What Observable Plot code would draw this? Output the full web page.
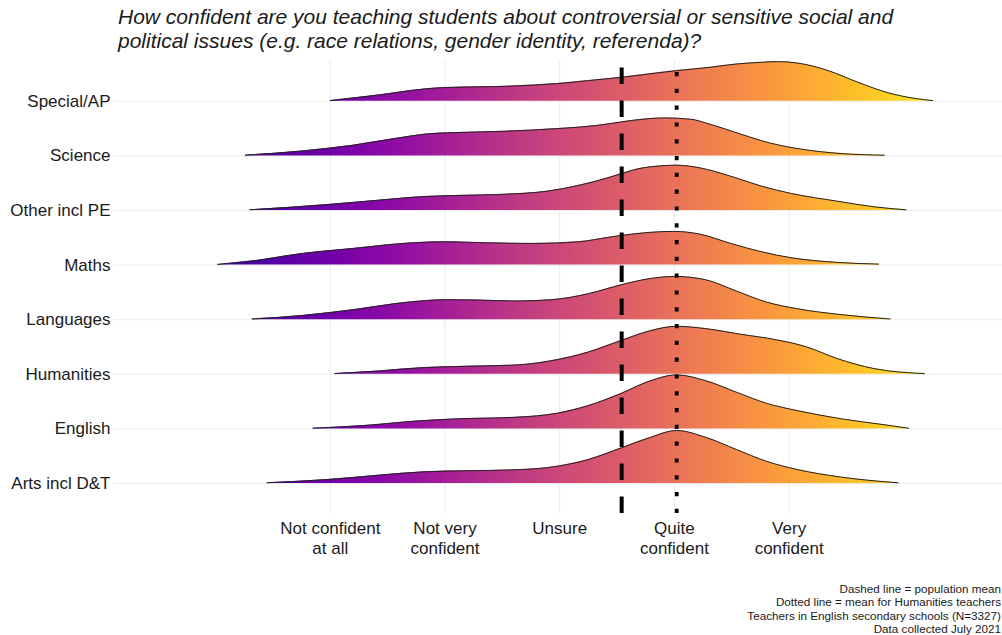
<!DOCTYPE html>
<html><head><meta charset="utf-8">
<script src="https://cdn.jsdelivr.net/npm/d3@7"></script>
<script src="https://cdn.jsdelivr.net/npm/@observablehq/plot@0.6"></script>
<style>
body{margin:0;background:#fff;font-family:"Liberation Sans",Arial,sans-serif;}
#wrap{position:relative;width:1002px;height:635px;overflow:hidden;}
#chart{position:absolute;left:0;top:0;}
#title{position:absolute;left:118px;top:5px;font-style:italic;font-size:21px;line-height:24px;color:#1a1a1a;white-space:nowrap;}
#caption{position:absolute;right:1px;top:582px;font-size:11.7px;line-height:13.3px;text-align:right;color:#1a1a1a;white-space:nowrap;}
</style></head>
<body><div id="wrap">
<div id="chart"></div>
<div id="title">How confident are you teaching students about controversial or sensitive social and<br>political issues (e.g. race relations, gender identity, referenda)?</div>
<div id="caption">Dashed line = population mean<br>Dotted line = mean for Humanities teachers<br>Teachers in English secondary schools (N=3327)<br>Data collected July 2021</div>
</div>
<script>
// categories, bottom row first
const subjects = ["Arts incl D&T","English","Humanities","Languages","Maths","Other incl PE","Science","Special/AP"];
const tickValues = [1,2,3,4,5];
const tickLabels = ["Not confident\nat all","Not very\nconfident","Unsure","Quite\nconfident","Very\nconfident"];
const populationMean = 3.54;
const humanitiesMean = 4.02;
// limits of the colour (fill) scale along x
const fillLimits = [-0.55, 6.54];

// density curves (x = confidence score, d = ridge height)
const specialX = [1.00,1.42,1.82,2.00,2.53,2.98,3.25,3.54,4.02,4.31,4.54,4.76,4.89,5.07,5.34,5.60,5.87,6.09,6.25];
const specialD = [0.7,6.3,12.3,13.7,15,17.7,20.7,24,30.7,34,37.3,39,39.7,38.3,30.7,19,8.3,3,0.7];
const scienceX = [0.26,0.76,1.20,1.56,1.82,2.09,2.53,2.98,3.34,3.54,3.78,3.91,4.14,4.31,4.58,4.84,5.11,5.46,5.83];
const scienceD = [0.7,5,10.7,17.3,21.7,23.3,24.7,27.3,30.7,34,37.3,38,36.7,31.7,21.7,12.7,6.7,2.3,0.7];
const otherX = [0.30,0.98,1.42,1.82,2.09,2.53,2.89,3.16,3.42,3.54,3.73,4.02,4.22,4.49,4.76,5.02,5.42,5.74,6.02];
const otherD = [0.7,6,10.3,14,15,16.3,19.3,25,32.7,37,42.7,45.3,42.7,34.3,24.3,17,9.3,3.7,0.7];
const mathsX = [0.02,0.31,0.76,1.20,1.64,2.00,2.36,2.76,3.16,3.42,3.54,3.78,4.00,4.22,4.49,4.76,5.02,5.42,5.78];
const mathsD = [0.7,4,11.7,16.7,21.7,23.3,22.3,21.7,23.3,27.7,29.7,32.7,33.7,31,21.7,13.3,7.3,2.7,1];
const languagesX = [0.32,0.76,1.20,1.56,1.82,2.00,2.27,2.62,2.93,3.25,3.54,3.78,4.00,4.27,4.54,4.80,5.07,5.46,5.88];
const languagesD = [0.7,4.3,10,16,19,20,19.7,18.7,20,26,35,41,43.3,40,28.7,17.7,11,5,0.7];
const humanitiesX = [1.04,1.42,1.82,2.18,2.62,2.98,3.25,3.54,3.78,4.02,4.27,4.58,4.89,5.15,5.42,5.74,6.18];
const humanitiesD = [0.7,3.3,6.7,8,9.3,14.7,22.3,34,43.3,48,45.7,40,34.5,27.5,15.7,5.7,0.7];
const englishX = [0.85,1.29,1.73,2.09,2.62,2.98,3.25,3.54,3.78,4.02,4.27,4.54,4.80,5.07,5.46,5.82,6.04];
const englishD = [0.7,3.3,7.7,10,11.7,15.7,23.3,35.7,47.7,54,48.3,36.7,25.7,18.3,10,4.3,0.7];
const artsX = [0.45,0.98,1.42,1.82,2.18,2.62,2.98,3.25,3.54,3.78,4.02,4.27,4.54,4.80,5.07,5.46,5.95];
const artsD = [0.7,4,8.3,11.7,12.7,13.7,17.3,24,35.7,45.7,53,46.3,34,22.3,14,6.3,0.7];

const curves = {
  "Arts incl D&T": [artsX, artsD],
  "English": [englishX, englishD],
  "Humanities": [humanitiesX, humanitiesD],
  "Languages": [languagesX, languagesD],
  "Maths": [mathsX, mathsD],
  "Other incl PE": [otherX, otherD],
  "Science": [scienceX, scienceD],
  "Special/AP": [specialX, specialD]
};

const rowGap = 54.6;
const xDomain = [-0.89, 6.86];
const yDomain = [-30, 423];

const gradientDefs = (index, scales) => {
  const defs = d3.create("svg:defs");
  const g = defs.append("linearGradient")
    .attr("id", "plasma-grad")
    .attr("gradientUnits", "userSpaceOnUse")
    .attr("x1", scales.x(fillLimits[0])).attr("x2", scales.x(fillLimits[1]))
    .attr("y1", 0).attr("y2", 0);
  d3.range(0, 1.0001, 0.05).forEach(t => {
    g.append("stop").attr("offset", t).attr("stop-color", d3.interpolatePlasma(t));
  });
  return defs.node();
};

const ridgeMarks = [];
for (let i = subjects.length - 1; i >= 0; i--) {
  const s = subjects[i];
  const [xs, ds] = curves[s];
  const rows = xs.map((x, k) => ({x, base: i * rowGap, top: i * rowGap + ds[k]}));
  ridgeMarks.push(Plot.areaY(rows, {x: "x", y1: "base", y2: "top", fill: "url(#plasma-grad)", curve: "monotone-x"}));
  ridgeMarks.push(Plot.lineY(rows, {x: "x", y: "top", stroke: "#222", strokeWidth: 1, curve: "monotone-x"}));
}

const baselines = subjects.map((s, i) => i * rowGap);

const chart = Plot.plot({
  width: 1002,
  height: 635,
  marginLeft: 113,
  marginRight: 0,
  marginTop: 60,
  marginBottom: 122,
  style: {fontFamily: "'Liberation Sans', Arial, sans-serif", fontSize: "17px", color: "#1a1a1a", background: "transparent"},
  x: {domain: xDomain},
  y: {domain: yDomain},
  marks: [
    gradientDefs,
    Plot.ruleX(tickValues, {stroke: "#ebebeb", strokeWidth: 1}),
    Plot.ruleY(baselines, {stroke: "#ebebeb", strokeWidth: 1}),
    ...ridgeMarks,
    Plot.ruleX([populationMean], {y1: yDomain[0], y2: yDomain[1], stroke: "black", strokeWidth: 4, strokeDasharray: "16.5,16.5"}),
    Plot.ruleX([humanitiesMean], {y1: yDomain[0], y2: yDomain[1], stroke: "black", strokeWidth: 3.8, strokeDasharray: "4.2,12.6"}),
    Plot.axisX({ticks: tickValues, tickFormat: d => tickLabels[d - 1], tickSize: 0, tickPadding: 6, fontSize: 17, lineHeight: 1.18, label: null}),
    Plot.axisY({ticks: baselines, tickFormat: d => subjects[Math.round(d / rowGap)], tickSize: 0, tickPadding: 3, fontSize: 17, label: null})
  ]
});
document.getElementById("chart").appendChild(chart);
</script>
</body></html>
